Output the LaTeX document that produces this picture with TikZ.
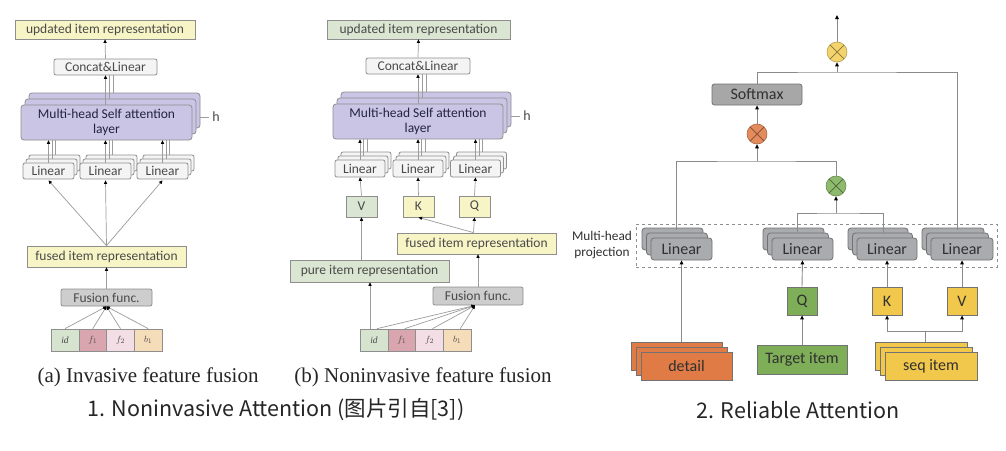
\documentclass[tikz,border=0pt]{standalone}
\usepackage{fontspec}
\setmainfont{Carlito}
\newfontfamily\cjkfont[Ligatures=NoCommon]{Noto Sans CJK SC}
\newfontfamily\timesfont{Liberation Serif}
\usetikzlibrary{arrows.meta,shadows,calc}
\definecolor{ylw}{HTML}{F7F4C6}
\definecolor{grn}{HTML}{DAE5D2}
\definecolor{wht}{HTML}{F4F4F4}
\definecolor{fgray}{HTML}{CDCDCD}
\definecolor{lav}{HTML}{CAC5E5}
\definecolor{boxline}{HTML}{8E8E8E}
\definecolor{txtA}{HTML}{4A4A4A}
\definecolor{lineA}{HTML}{9C9C9C}
\definecolor{cid}{HTML}{D6E3CF}
\definecolor{cfa}{HTML}{D9A5AF}
\definecolor{cfb}{HTML}{F4DEE5}
\definecolor{cba}{HTML}{F6DDB9}
\definecolor{lingray}{HTML}{A9ABAE}
\definecolor{smgray}{HTML}{A7A7A7}
\definecolor{qgreen}{HTML}{7FAE59}
\definecolor{kgold}{HTML}{F2C84C}
\definecolor{dorange}{HTML}{E07B45}
\definecolor{cyel}{HTML}{F3D36C}
\definecolor{cora}{HTML}{E38B5C}
\definecolor{cgrn}{HTML}{8DBA6D}
\definecolor{txtB}{HTML}{303030}
\definecolor{lineB}{HTML}{8A8A8A}
\begin{document}
\begin{tikzpicture}[x=1pt,y=-1pt,
  abox/.style={draw=boxline, line width=0.8pt, inner sep=0pt, text=txtA, font=\fontsize{13.5}{15}\selectfont},
  ybox/.style={abox, fill=ylw},
  gbox/.style={abox, fill=grn},
  wbox/.style={abox, fill=wht, rounded corners=2pt},
  fusbox/.style={abox, fill=fgray, rounded corners=2pt},
  mhbox/.style={abox, fill=lav, rounded corners=3pt, align=center, font=\fontsize{13.5}{15.5}\selectfont, text=txtA!80!blue!60!black,
     minimum width=171, minimum height=35, double copy shadow={shadow xshift=4pt,shadow yshift=6pt}},
  linA/.style={abox, fill=wht, rounded corners=2pt, minimum width=51, minimum height=16,
     double copy shadow={shadow xshift=3pt,shadow yshift=4pt}},
  feat/.style={draw=boxline, line width=0.7pt, minimum width=27.75, minimum height=22, inner sep=0pt,
     font=\timesfont\itshape\fontsize{9.5}{10}\selectfont, text=txtA},
  ln/.style={draw=lineA, line width=0.7pt},
  arr/.style={ln, -{Triangle[length=3.5pt,width=3.2pt,color=black]}},
  capt/.style={font=\timesfont\fontsize{21}{23}\selectfont, text=black!85},
  qbox/.style={draw=boxline!80!black, line width=0.8pt, inner sep=0pt, text=txtB, font=\fontsize{16}{18}\selectfont},
  linB/.style={qbox, fill=lingray, rounded corners=3pt, minimum width=61, minimum height=22,
     double copy shadow={shadow xshift=-4.5pt,shadow yshift=5pt}},
  stackB/.style={qbox, minimum width=91, minimum height=28,
     double copy shadow={shadow xshift=-5pt,shadow yshift=5pt}},
  opc/.style={circle, draw=#1!75!black, fill=#1, line width=0.6pt, minimum size=20, inner sep=0pt,
     path picture={\draw[#1!55!black, line width=0.7pt] (path picture bounding box.north west) -- (path picture bounding box.south east) (path picture bounding box.north east) -- (path picture bounding box.south west);}},
  lnB/.style={draw=lineB, line width=0.9pt},
  arrB/.style={lnB, -{Triangle[length=4pt,width=3.6pt,color=black]}},
  bigcap/.style={font=\cjkfont\fontsize{21.5}{23}\selectfont, text=black!85}
]
\useasboundingbox[fill=white] (0,0) rectangle (1006,450);

% ================= Panel (a) =================
\node[ybox, minimum width=180, minimum height=19] (aupd) at (105,29.5) {updated item representation};
\node[wbox, minimum width=103, minimum height=16] (acat) at (105.5,67) {Concat\&Linear};
\node[mhbox] (amh) at (106.5,122.5) {Multi-head Self attention\\layer};
\node[text=txtA, font=\fontsize{14}{15}\selectfont] (ah) at (216,117) {h};
\node[linA] (al1) at (48.5,171) {Linear};
\node[linA] (al2) at (105.5,171) {Linear};
\node[linA] (al3) at (162.5,171) {Linear};
\node[ybox, minimum width=159, minimum height=21] (afused) at (106.5,256.5) {fused item representation};
\node[fusbox, minimum width=91, minimum height=17] (afus) at (106.5,297.5) {Fusion func.};
\node[feat, fill=cid] (aid) at (65,340) {id};
\node[feat, fill=cfa] (af1) at (92.75,340) {$f_1$};
\node[feat, fill=cfb] (af2) at (120.5,340) {$f_2$};
\node[feat, fill=cba] (ab1) at (148.25,340) {$b_1$};
\node[capt] (acap) at (148,377) {(a) Invasive feature fusion};

\draw[arr] (acat.north) -- (aupd.south);
\draw[arr] (acat.south |- amh.north) -- (acat.south);
\draw[ln] ($(acat.south |- amh.north)+(4,-6)$) -- ($(acat.south)+(4,0)$);
\draw[ln] ($(acat.south |- amh.north)+(8,-12)$) -- ($(acat.south)+(8,0)$);
\draw[ln] ($(amh.east)+(8,-5.5)$) -- (ah.west);
\foreach \n in {al1,al2,al3}{
  \draw[arr] (\n.north) -- (\n.north |- amh.south);
  \draw[ln] ($(\n.north)+(3.5,-4)$) -- ($(\n.north |- amh.south)+(3.5,0)$);
  \draw[ln] ($(\n.north)+(7,-8)$) -- ($(\n.north |- amh.south)+(7,0)$);
  \draw[arr] (afused.north) -- ($(\n.south)+(0,1)$);
}
\draw[arr] (afus.north) -- (afused.south);
\foreach \n in {aid,af1,af2,ab1}{\draw[arr] (\n.north) -- (afus.south);}

% ================= Panel (b) =================
\node[gbox, minimum width=183, minimum height=19] (bupd) at (418.5,29.5) {updated item representation};
\node[wbox, minimum width=104, minimum height=16] (bcat) at (418,66) {Concat\&Linear};
\node[mhbox, minimum width=170] (bmh) at (418,121.5) {Multi-head Self attention\\layer};
\node[text=txtA, font=\fontsize{14}{15}\selectfont] (bh) at (527,116) {h};
\node[linA, minimum width=50, minimum height=17] (bl1) at (360,168.5) {Linear};
\node[linA, minimum width=50, minimum height=17] (bl2) at (418,168.5) {Linear};
\node[linA, minimum width=50, minimum height=17] (bl3) at (475.5,168.5) {Linear};
\node[gbox, minimum width=31, minimum height=21] (bV) at (361.5,206.5) {V};
\node[ybox, minimum width=31, minimum height=21] (bK) at (418.5,206.5) {K};
\node[ybox, minimum width=31, minimum height=21] (bQ) at (474.5,206.5) {Q};
\node[ybox, minimum width=159, minimum height=21] (bfused) at (476.5,243.5) {fused item representation};
\node[gbox, minimum width=159, minimum height=22] (bpure) at (369.5,271) {pure item representation};
\node[fusbox, minimum width=90, minimum height=18] (bfus) at (478,296) {Fusion func.};
\node[feat, fill=cid] (bid) at (374,340) {id};
\node[feat, fill=cfa] (bf1) at (401.75,340) {$f_1$};
\node[feat, fill=cfb] (bf2) at (429.5,340) {$f_2$};
\node[feat, fill=cba] (bb1) at (457.25,340) {$b_1$};
\node[capt] (bcap) at (423,377) {(b) Noninvasive feature fusion};

\draw[arr] (bcat.north) -- (bupd.south);
\draw[arr] (bcat.south |- bmh.north) -- (bcat.south);
\draw[ln] ($(bcat.south |- bmh.north)+(4,-6)$) -- ($(bcat.south)+(4,0)$);
\draw[ln] ($(bcat.south |- bmh.north)+(8,-12)$) -- ($(bcat.south)+(8,0)$);
\draw[ln] ($(bmh.east)+(8,-5.5)$) -- (bh.west);
\foreach \n in {bl1,bl2,bl3}{
  \draw[arr] (\n.north) -- (\n.north |- bmh.south);
  \draw[ln] ($(\n.north)+(3.5,-4)$) -- ($(\n.north |- bmh.south)+(3.5,0)$);
  \draw[ln] ($(\n.north)+(7,-8)$) -- ($(\n.north |- bmh.south)+(7,0)$);
}
\draw[arr] (bV.north) -- (bl1.south);
\draw[arr] (bK.north) -- (bl2.south);
\draw[arr] (bQ.north) -- (bl3.south);
\draw[arr] (bV.south |- bpure.north) -- (bV.south);
\coordinate (bft) at ($(bfused.north)+(-3,0)$);
\draw[arr] (bft) -- (bK.south);
\draw[arr] (bft) -- (bQ.south);
\draw[arr] (bfus.north) -- (bfused.south -| bfus.north);
\coordinate (bidl) at ($(bid.north)+(-4,0)$);
\draw[arr] (bidl) -- (bpure.south -| bidl);
\foreach \n in {bid,bf1,bf2,bb1}{\draw[arr] ($(\n.north)+(3,0)$) -- ($(bfus.south)+(-3,0)$);}

% ================= Panel 2 =================
\node[draw=boxline, dashed, line width=0.8pt, minimum width=361, minimum height=43, inner sep=0pt] (proj) at (816.5,245.5) {};
\node[align=center, text=txtB, font=\fontsize{13.3}{16}\selectfont] (projlab) at (602,245) {Multi-head\\projection};
\node[linB] (L1) at (681.5,249) {Linear};
\node[linB] (L2) at (802.5,249) {Linear};
\node[linB, minimum width=60] (L3) at (887,249) {Linear};
\node[linB, minimum width=62] (L4) at (962,249) {Linear};
\node[qbox, fill=qgreen, minimum width=30, minimum height=28] (Q) at (802,301) {Q};
\node[qbox, fill=kgold, minimum width=30, minimum height=28] (K) at (887,301) {K};
\node[qbox, fill=kgold, minimum width=30, minimum height=28] (V) at (962,301) {V};
\node[stackB, fill=dorange] (det) at (686.5,366) {detail};
\node[qbox, fill=qgreen, minimum width=90, minimum height=29] (tgt) at (802,359.5) {Target item};
\node[stackB, fill=kgold, minimum width=92] (seq) at (931,366) {seq item};
\node[qbox, fill=smgray, rounded corners=2.5pt, minimum width=90, minimum height=21] (sm) at (757,94.5) {Softmax};
\node[opc=cyel] (cy) at (837,52) {};
\node[opc=cora] (co) at (757,134) {};
\node[opc=cgrn] (cg) at (836,186) {};
\coordinate (out) at (837,15);
\coordinate (j1) at (837,72);
\coordinate (j2) at (757,161);
\coordinate (j3) at (836,213);
\coordinate (j4) at (925,331);

\draw[arrB] (cy.north) -- (out);
\draw[arrB] (j1) -- (cy.south);
\draw[lnB] (sm.north) |- (j1) -| ($(L4.north)+(-5,-8)$);
\draw[arrB] (co.north) -- (sm.south);
\draw[arrB] (j2) -- (co.south);
\draw[lnB] ($(L1.north)+(-5.5,-8)$) |- (j2) -| (cg.north);
\draw[arrB] (j3) -- (cg.south);
\draw[lnB] ($(L2.north)+(-5.5,-5)$) |- (j3) -| ($(L3.north)+(-4,-5)$);
\draw[arrB] ($(L1.south |- det.north)+(0,-10)$) -- (L1.south);
\draw[arrB] (tgt.north) -- (Q.south);
\draw[arrB] (Q.north) -- (L2.south);
\draw[arrB] (K.north) -- (L3.south);
\draw[arrB] (V.north) -- (L4.south);
\draw[lnB] ($(j4 |- seq.north)+(0,-10)$) -- (j4);
\draw[arrB] (j4) -| (K.south);
\draw[arrB] (j4) -| (V.south);

% ================= Captions =================
\node[bigcap] (cap1) at (276,410) {1. Noninvasive Attention (图片引自[3])};
\node[bigcap] (cap2) at (798,410) {2. Reliable Attention};
\end{tikzpicture}
\end{document}
